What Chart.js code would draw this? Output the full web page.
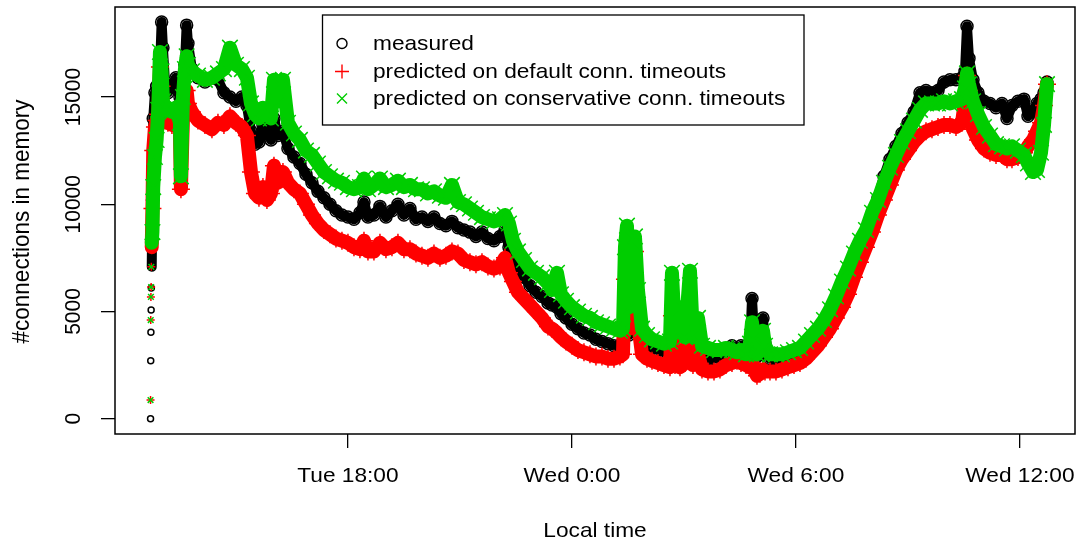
<!DOCTYPE html>
<html>
<head>
<meta charset="utf-8">
<title>Connections in memory</title>
<script src="https://cdn.jsdelivr.net/npm/chart.js@4.4.1/dist/chart.umd.min.js"></script>
<style>
  html, body { margin: 0; padding: 0; background: #ffffff; }
  #wrap { width: 1076px; height: 546px; }
</style>
</head>
<body>
<div id="wrap"><canvas id="c" width="1076" height="546"></canvas></div>
<script>
// Sample times, in hours counted from Tuesday 0:00
const timeHours = [
  12.712, 12.717, 12.722, 12.728, 12.733, 12.744, 12.763, 12.784, 12.830, 12.875,
  12.918, 12.964, 13.009, 13.044, 13.098, 13.178, 13.285, 13.392, 13.500, 13.526,
  13.580, 13.633, 13.679, 13.714, 13.821, 13.982, 14.169, 14.357, 14.518, 14.678,
  14.839, 15.000, 15.160, 15.294, 15.402, 15.509, 15.616, 15.723, 15.830, 15.937,
  16.018, 16.125, 16.259, 16.393, 16.553, 16.714, 16.875, 17.036, 17.196, 17.357,
  17.518, 17.679, 17.839, 18.000, 18.161, 18.321, 18.429, 18.536, 18.696, 18.857,
  19.018, 19.179, 19.339, 19.500, 19.661, 19.822, 19.982, 20.143, 20.304, 20.464,
  20.625, 20.786, 20.947, 21.107, 21.268, 21.429, 21.590, 21.750, 21.911, 22.072,
  22.206, 22.313, 22.420, 22.554, 22.715, 22.875, 23.036, 23.197, 23.358, 23.465,
  23.599, 23.706, 23.840, 24.001, 24.161, 24.322, 24.483, 24.643, 24.804, 24.965,
  25.126, 25.286, 25.367, 25.420, 25.474, 25.527, 25.608, 25.688, 25.768, 25.876,
  26.010, 26.144, 26.304, 26.465, 26.626, 26.679, 26.760, 26.894, 27.028, 27.162,
  27.242, 27.376, 27.483, 27.644, 27.805, 27.965, 28.126, 28.287, 28.421, 28.528,
  28.662, 28.769, 28.823, 28.876, 28.956, 29.037, 29.117, 29.171, 29.305, 29.465,
  29.626, 29.787, 29.948, 30.108, 30.269, 30.430, 30.590, 30.751, 30.912, 31.072,
  31.233, 31.394, 31.555, 31.715, 31.876, 32.037, 32.197, 32.358, 32.519, 32.680,
  32.840, 33.001, 33.162, 33.323, 33.483, 33.644, 33.805, 33.966, 34.126, 34.287,
  34.448, 34.528, 34.582, 34.635, 34.743, 34.876, 35.037, 35.198, 35.359, 35.519,
  35.653, 35.787, 35.948, 36.109, 36.216, 36.350, 36.457, 36.564, 36.645, 36.725
];

const measured = [
  0, 2700, 4030, 5070, 6090, 7080, 10200, 14000, 15200, 15500,
  15600, 16200, 18500, 17300, 15700, 15200, 15500, 15900, 15000, 14500,
  15500, 16500, 18350, 17500, 16300, 15900, 15700, 15900, 15800, 15200,
  15000, 14800, 15000, 14600, 13400, 12800, 12900, 13700, 13300, 13000,
  14000, 13200, 13400, 12600, 12200, 11900, 11400, 11000, 10600, 10300,
  10000, 9700, 9500, 9400, 9300, 9600, 10100, 9400, 9500, 9900,
  9400, 9700, 10000, 9500, 9800, 9300, 9400, 9200, 9400, 9100,
  9000, 9200, 8900, 8800, 8700, 8500, 8700, 8400, 8300, 8500,
  8800, 8000, 7300, 6900, 6600, 6200, 5900, 5700, 5400, 5300,
  5200, 4900, 4700, 4400, 4200, 4000, 3900, 3700, 3600, 3500,
  3400, 3400, 3600, 4100, 4600, 3900, 4300, 4800, 4000, 3800,
  3500, 3300, 3200, 3100, 3000, 3200, 3000, 2950, 3000, 3100,
  3000, 2900, 2900, 2800, 2800, 2900, 3100, 3400, 3200, 3400,
  3100, 3300, 5600, 4000, 2900, 3000, 4700, 3500, 2800, 2800,
  2800, 2900, 2900, 3100, 3300, 3600, 3900, 4300, 4800, 5400,
  6100, 6800, 7500, 8100, 8700, 9500, 10300, 11300, 12100, 12700,
  13300, 13800, 14300, 15200, 15300, 15200, 15300, 15700, 15800, 15800,
  15900, 16200, 18300, 16800, 15800, 15200, 14800, 14700, 14500, 14700,
  14000, 14600, 14800, 14900, 14100, 14300, 14700, 14900, 15200, 15700
];

const predictedDefault = [
  870, 4600, 5680, 6140, 7080, 8000, 9800, 12500, 13600, 13900,
  14200, 16400, 15500, 14500, 13900, 13800, 13700, 13900, 13400, 10700,
  14000, 14800, 15300, 14700, 14300, 13900, 13700, 13500, 13800, 13700,
  14100, 13800, 13600, 13200, 11500, 10500, 10300, 10800, 10200, 10500,
  11800, 11000, 11500, 11000, 10700, 10500, 10000, 9500, 9100, 8800,
  8600, 8400, 8300, 8200, 8000, 7900, 8300, 7800, 7800, 8200,
  7900, 8000, 8200, 7900, 7900, 7700, 7600, 7500, 7700, 7500,
  7600, 7800, 7700, 7400, 7300, 7200, 7300, 7100, 7000, 7100,
  7500, 6800, 6400, 5900, 5600, 5300, 5000, 4700, 4300, 4200,
  4000, 3800, 3600, 3400, 3200, 3100, 3000, 2900, 2900, 2800,
  2800, 2900, 3000, 6500, 7600, 4200, 7000, 7800, 4500, 3000,
  2800, 2700, 2600, 2500, 2400, 4800, 2500, 2400, 2600, 4200,
  2500, 3000, 2300, 2200, 2200, 2300, 2500, 2600, 2700, 2600,
  2500, 2400, 2600, 2300, 2000, 2100, 2300, 2200, 2200, 2200,
  2300, 2400, 2500, 2600, 2800, 3100, 3400, 3800, 4200, 4700,
  5200, 5800, 6600, 7300, 8000, 8700, 9500, 10200, 10900, 11600,
  12100, 12500, 12900, 13200, 13400, 13500, 13600, 13700, 13700, 13600,
  13800, 14800, 16000, 15300, 13500, 13000, 12600, 12400, 12300, 12300,
  12100, 12100, 12200, 12400, 12700, 13000, 13400, 13800, 14600, 15600
];

const predictedConservative = [
  870, 4600, 5680, 6140, 7080, 8200, 8700, 10800, 12200, 13000,
  14400, 17100, 16200, 14800, 14400, 14500, 14300, 14500, 13800, 11300,
  15000, 16300, 16900, 16500, 16200, 16000, 15800, 15900, 16100, 16300,
  17300, 16500, 16300, 15900, 14700, 14200, 14000, 14500, 14300, 14000,
  15800, 14800, 15800, 13800, 13300, 13000, 12500, 12300, 11900, 11500,
  11300, 11100, 11000, 10800, 10700, 10800, 11200, 10700, 10900, 11200,
  10800, 10900, 11100, 10800, 10900, 10700, 10700, 10500, 10600, 10400,
  10300, 10900, 10100, 10000, 9800, 9600, 9400, 9300, 9200, 9300,
  9500, 9100, 8300, 7800, 7400, 7000, 6800, 6600, 6300, 6000,
  6800, 5800, 5500, 5200, 5000, 4800, 4700, 4500, 4400, 4300,
  4200, 4100, 4200, 8000, 9000, 5200, 8300, 8500, 6000, 4200,
  3900, 3700, 3600, 3500, 3600, 6800, 4000, 5200, 3800, 6900,
  3800, 4700, 3400, 3300, 3200, 3200, 3300, 3200, 3100, 3200,
  3000, 3500, 4500, 3700, 3000, 3300, 4100, 3400, 3000, 3000,
  3000, 3100, 3200, 3300, 3600, 3900, 4200, 4600, 5100, 5700,
  6400, 7000, 7700, 8300, 8800, 9600, 10200, 11000, 11700, 12300,
  12900, 13400, 13900, 14400, 14700, 14700, 14700, 14800, 14700, 14800,
  14900, 15400, 16100, 15600, 14800, 14200, 13600, 13200, 12800, 12700,
  12600, 12700, 12500, 12300, 11900, 11500, 11600, 12400, 13700, 15600
];

const seriesLabels = [
  'measured',
  'predicted on default conn. timeouts',
  'predicted on conservative conn. timeouts'
];
const xTickHours = [18, 24, 30, 36];
const xTickLabels = ['Tue 18:00', 'Wed 0:00', 'Wed 6:00', 'Wed 12:00'];
const yTickValues = [0, 5000, 10000, 15000];
const xTitle = 'Local time';
const yTitle = '#connections in memory';

const COLORS = ['#000000', '#ff0000', '#00cd00'];
const FAMILY = '"Liberation Sans", Arial, Helvetica, sans-serif';
const FONT = '21px ' + FAMILY;
const YTITLE_FONT = '22.5px ' + FAMILY;
const STRETCH = 1.08;
const SPARSE_LEAD = 5; // first samples are drawn as lone markers

function toPoints(values) {
  return values.map((v, i) => ({ x: timeHours[i], y: v }));
}

function hideLead(ctx) {
  return ctx.p1DataIndex <= SPARSE_LEAD ? 'rgba(0,0,0,0)' : undefined;
}

function makeSet(i, values, style, leadRadius, radius, width) {
  return {
    label: seriesLabels[i],
    data: toPoints(values),
    order: 3 - i,
    showLine: true,
    borderColor: COLORS[i],
    backgroundColor: 'rgba(0,0,0,0)',
    borderWidth: width,
    borderJoinStyle: 'round',
    borderCapStyle: 'round',
    pointStyle: style,
    pointRadius: ctx => (ctx.dataIndex <= SPARSE_LEAD ? leadRadius : radius),
    pointBorderWidth: 1.5,
    pointBorderColor: COLORS[i],
    pointBackgroundColor: 'rgba(0,0,0,0)',
    segment: { borderColor: hideLead }
  };
}

function drawLabel(ctx, text, cx, cy, rotate) {
  ctx.save();
  ctx.translate(cx, cy);
  if (rotate) {
    ctx.rotate(-Math.PI / 2);
    ctx.scale(1, STRETCH);
  } else {
    ctx.scale(STRETCH, 1);
  }
  ctx.fillText(text, 0, 0);
  ctx.restore();
}

function drawMarker(ctx, kind, x, y, color) {
  ctx.save();
  ctx.strokeStyle = color;
  ctx.lineWidth = 1.4;
  ctx.beginPath();
  if (kind === 'circle') {
    ctx.arc(x, y, 5, 0, Math.PI * 2);
  } else if (kind === 'cross') {
    ctx.moveTo(x - 7, y); ctx.lineTo(x + 7, y);
    ctx.moveTo(x, y - 7); ctx.lineTo(x, y + 7);
  } else {
    ctx.moveTo(x - 5, y - 5); ctx.lineTo(x + 5, y + 5);
    ctx.moveTo(x - 5, y + 5); ctx.lineTo(x + 5, y - 5);
  }
  ctx.stroke();
  ctx.restore();
}

const frameAndText = {
  id: 'frameAndText',
  afterDraw(chart) {
    const { ctx, chartArea: a, scales } = chart;
    const xs = scales.x, ys = scales.y;
    ctx.save();
    ctx.strokeStyle = '#000';
    ctx.lineWidth = 1.5;
    ctx.strokeRect(a.left, a.top, a.right - a.left, a.bottom - a.top);

    ctx.fillStyle = '#000';
    ctx.font = FONT;
    ctx.textAlign = 'center';
    ctx.textBaseline = 'middle';

    xTickHours.forEach((h, i) => drawLabel(ctx, xTickLabels[i], xs.getPixelForValue(h), 476, false));
    yTickValues.forEach(v => drawLabel(ctx, String(v), 74, ys.getPixelForValue(v), true));

    drawLabel(ctx, xTitle, (a.left + a.right) / 2, 531, false);
    ctx.font = YTITLE_FONT;
    drawLabel(ctx, yTitle, 22, (a.top + a.bottom) / 2 + 1, true);
    ctx.font = FONT;

    // legend box
    const box = { left: 322.5, top: 15, right: 804, bottom: 125 };
    ctx.fillStyle = '#fff';
    ctx.fillRect(box.left, box.top, box.right - box.left, box.bottom - box.top);
    ctx.lineWidth = 1.3;
    ctx.strokeRect(box.left, box.top, box.right - box.left, box.bottom - box.top);
    const rows = [43.5, 71.5, 98.5];
    const kinds = ['circle', 'cross', 'crossRot'];
    ctx.textAlign = 'left';
    seriesLabels.forEach((lab, i) => {
      drawMarker(ctx, kinds[i], 342, rows[i], COLORS[i]);
      ctx.fillStyle = '#000';
      drawLabel(ctx, lab, 373, rows[i] + 1, false);
    });
    ctx.restore();
  }
};

new Chart(document.getElementById('c'), {
  type: 'scatter',
  data: {
    datasets: [
      makeSet(0, measured, 'circle', 3, 6, 10),
      makeSet(1, predictedDefault, 'cross', 4, 9, 14),
      makeSet(2, predictedConservative, 'crossRot', 4, 11, 14)
    ]
  },
  options: {
    responsive: false,
    animation: false,
    events: [],
    layout: { padding: { top: 7, right: 1, left: 0, bottom: 0 }, autoPadding: false },
    plugins: { legend: { display: false }, tooltip: { enabled: false } },
    scales: {
      x: {
        type: 'linear',
        min: 11.76,
        max: 37.475,
        afterBuildTicks: s => { s.ticks = xTickHours.map(v => ({ value: v })); },
        afterFit: s => { s.height = 112; },
        ticks: { display: false },
        border: { display: false },
        grid: { drawOnChartArea: false, drawTicks: true, tickLength: 14, color: '#000', lineWidth: 1.3 }
      },
      y: {
        type: 'linear',
        min: -713,
        max: 19196,
        afterBuildTicks: s => { s.ticks = yTickValues.map(v => ({ value: v })); },
        afterFit: s => { s.width = 115; },
        ticks: { display: false },
        border: { display: false },
        grid: { drawOnChartArea: false, drawTicks: true, tickLength: 14, color: '#000', lineWidth: 1.3 }
      }
    }
  },
  plugins: [frameAndText]
});
</script>
</body>
</html>
